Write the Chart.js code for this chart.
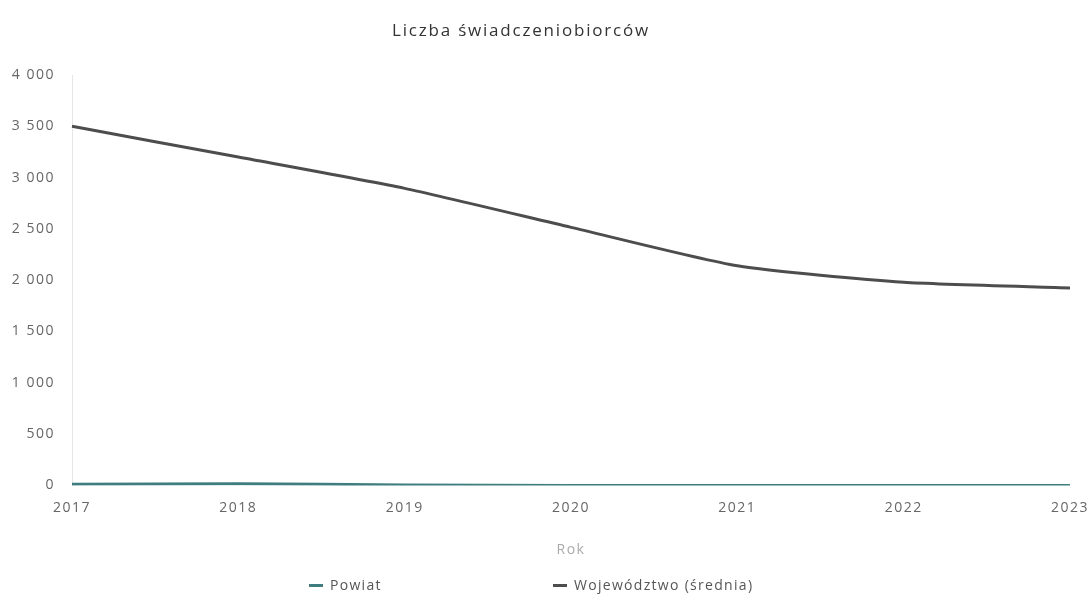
<!DOCTYPE html>
<html lang="pl">
<head>
<meta charset="utf-8">
<script src="https://cdn.jsdelivr.net/npm/chart.js@4"></script>
<style>
  html, body { margin: 0; padding: 0; background: #fff; }
  #wrap { position: relative; width: 1088px; height: 595px; }
  #title { position: absolute; top: 18px; left: 392px; font-family: "Open Sans", sans-serif; font-size: 17px; letter-spacing: 1.8px; color: #333; white-space: nowrap; }
  #legend { position: absolute; top: 575px; left: 0; width: 1088px; font-family: "Open Sans", sans-serif; font-size: 14px; letter-spacing: 1.3px; color: #555; }
  .item { position: absolute; white-space: nowrap; }
  .swatch { display: inline-block; width: 14px; height: 3px; vertical-align: middle; margin-right: 7px; position: relative; top: -1px; }
</style>
</head>
<body>
<div id="wrap">
  <canvas id="chart" width="1088" height="595"></canvas>
  <div id="title">Liczba świadczeniobiorców</div>
  <div id="legend"></div>
</div>
<script>
// values
const years = ["2017", "2018", "2019", "2020", "2021", "2022", "2023"];
const powiat = [10, 15, 5, 0, 0, 0, 0];
const wojewodztwo = [3500, 3200, 2895, 2515, 2140, 1980, 1925];
const yTicks = [0, 500, 1000, 1500, 2000, 2500, 3000, 3500, 4000];

const seriesNames = ["Powiat", "Województwo (średnia)"];
const seriesColors = ["#3f7d7f", "#4d4d4d"];

function formatThousands(v) {
  return String(v).replace(/\B(?=(\d{3})+(?!\d))/g, " ");
}

// the scanned original has wide letter spacing, canvas can do that too
const spacing = {
  id: "spacing",
  beforeLayout(chart) { chart.ctx.letterSpacing = "1.5px"; },
  beforeDraw(chart) { chart.ctx.letterSpacing = "1.5px"; },
};

const tickFont = { family: "Open Sans", size: 14 };

new Chart(document.getElementById("chart"), {
  type: "line",
  data: {
    labels: years,
    datasets: [
      {
        label: seriesNames[0],
        data: powiat,
        borderColor: seriesColors[0],
        borderWidth: 3,
        pointRadius: 0,
        tension: 0.2,
      },
      {
        label: seriesNames[1],
        data: wojewodztwo,
        borderColor: seriesColors[1],
        borderWidth: 3,
        pointRadius: 0,
        tension: 0.2,
      },
    ],
  },
  plugins: [spacing],
  options: {
    responsive: false,
    animation: false,
    layout: { padding: { left: 0, right: 18, top: 75, bottom: 33 } },
    plugins: {
      legend: { display: false },
      tooltip: { enabled: false },
      title: { display: false },
    },
    scales: {
      x: {
        offset: false,
        afterFit: (axis) => { axis.paddingLeft = 0; axis.paddingRight = 0; },
        grid: { display: false },
        border: { display: false },
        ticks: { color: "#666", font: tickFont, padding: 6, maxRotation: 0 },
        title: {
          display: true,
          text: "Rok",
          color: "#aaa",
          font: { family: "Open Sans", size: 14 },
          padding: { top: 19 },
        },
      },
      y: {
        min: 0,
        max: 4000,
        afterBuildTicks: (axis) => { axis.ticks = yTicks.map((v) => ({ value: v })); },
        afterFit: (axis) => { axis.width = 72; },
        grid: { display: false },
        border: { display: true, color: "#e6e6e6" },
        ticks: { color: "#666", font: tickFont, padding: 9, callback: (v) => formatThousands(v) },
      },
    },
  },
});

// legend drawn as html so the items can sit far apart like the original
const legendPos = [309, 553];
const legend = document.getElementById("legend");
seriesNames.forEach((name, i) => {
  const item = document.createElement("span");
  item.className = "item";
  item.style.left = legendPos[i] + "px";
  item.innerHTML = '<span class="swatch" style="background:' + seriesColors[i] + '"></span>' + name;
  legend.appendChild(item);
});
</script>
</body>
</html>
